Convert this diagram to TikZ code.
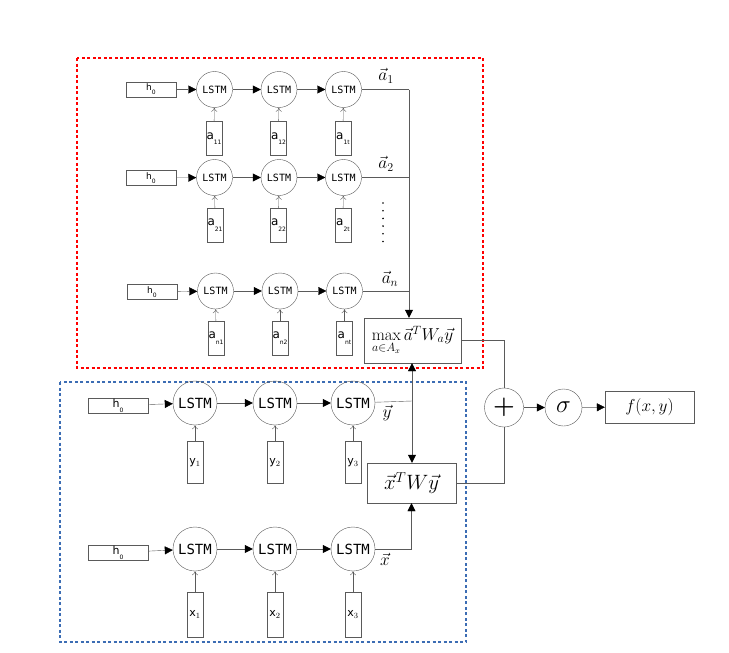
\documentclass[tikz,border=0pt]{standalone}
\usepackage{fontspec}
\usepackage{amsmath}
\usetikzlibrary{arrows.meta}
\newfontfamily\monofnt{DejaVu Sans Mono}
\newfontfamily\sansfnt{DejaVu Sans}
\newcommand{\lowsub}[2]{#1\raisebox{-0.45em}{\fontsize{6}{6}\selectfont #2}}
\definecolor{linegray}{HTML}{5A5A5A}
\definecolor{boxblue}{HTML}{3C6DB4}
\begin{document}
\begin{tikzpicture}[x=1pt, y=-1pt]
    \tikzstyle{every node}=[draw=linegray, thin, text=black, inner sep=0pt]
    \tikzstyle{lstm}=[circle, minimum size=36pt, font=\monofnt\fontsize{10}{10}\selectfont]
    \tikzstyle{biglstm}=[circle, minimum size=44pt, font=\monofnt\fontsize{14}{14}\selectfont]
    \tikzstyle{hbox}=[rectangle, minimum width=50pt, minimum height=15pt, font=\sansfnt\fontsize{9}{9}\selectfont]
    \tikzstyle{bighbox}=[rectangle, minimum width=60pt, minimum height=15pt, font=\sansfnt\fontsize{11}{11}\selectfont]
    \tikzstyle{inbox}=[rectangle, minimum width=16pt, minimum height=34pt, font=\sansfnt\fontsize{12}{12}\selectfont]
    \tikzstyle{biginbox}=[rectangle, minimum width=16pt, minimum height=42pt, font=\sansfnt\fontsize{11}{11}\selectfont]
    \tikzstyle{mathbox}=[rectangle]
    \tikzstyle{label}=[draw=none, font=\fontsize{18}{18}\selectfont]
    \tikzstyle{chain}=[linegray, thin, -{Triangle[length=8pt, width=8pt, color=black]}]
    \tikzstyle{feed}=[linegray, thin, -{To[length=4pt, width=6pt]}]
    \tikzstyle{wire}=[linegray, thin]

    \useasboundingbox (0,0) rectangle (729,653);

    % dashed frames
    \draw[red, line width=1.2pt, dash pattern=on 3pt off 2.5pt] (77,58) rectangle (483,368);
    \draw[boxblue, line width=1.1pt, dash pattern=on 3pt off 2.5pt] (60,382) rectangle (466,642);

    % answer rows
    \node[hbox] (h1) at (151,89.5) {\lowsub{h}{0}};
    \node[lstm] (A11) at (214.5,89.5) {LSTM};
    \node[lstm] (A12) at (279,89.5) {LSTM};
    \node[lstm] (A13) at (343.5,89.5) {LSTM};
    \node[inbox] (a11) at (214,138.5) {\lowsub{a}{11}};
    \node[inbox] (a12) at (278.5,138.5) {\lowsub{a}{12}};
    \node[inbox] (a13) at (343,138.5) {\lowsub{a}{1t}};

    \node[hbox] (h2) at (151,178) {\lowsub{h}{0}};
    \node[lstm] (A21) at (214.5,177.5) {LSTM};
    \node[lstm] (A22) at (279,177.5) {LSTM};
    \node[lstm] (A23) at (343.5,177.5) {LSTM};
    \node[inbox] (a21) at (215,225) {\lowsub{a}{21}};
    \node[inbox] (a22) at (278.5,225) {\lowsub{a}{22}};
    \node[inbox] (a23) at (343,225) {\lowsub{a}{2t}};

    \node[hbox] (h3) at (152,292) {\lowsub{h}{0}};
    \node[lstm] (A31) at (215.5,291) {LSTM};
    \node[lstm] (A32) at (280,291) {LSTM};
    \node[lstm] (A33) at (344.5,291) {LSTM};
    \node[inbox] (a31) at (216,338) {\lowsub{a}{n1}};
    \node[inbox] (a32) at (280,338) {\lowsub{a}{n2}};
    \node[inbox] (a33) at (344.5,338) {\lowsub{a}{nt}};

    \foreach \r in {1,2,3} {
        \draw[chain] (h\r) -- (A\r1);
        \draw[chain] (A\r1) -- (A\r2);
        \draw[chain] (A\r2) -- (A\r3);
        \foreach \c in {1,2,3}
            \draw[feed] (a\r\c) -- (A\r\c);
    }

    \node[label] (va1) at (386,76) {$\vec{a}_1$};
    \node[label] (va2) at (386,164) {$\vec{a}_2$};
    \node[label] (van) at (390,279) {$\vec{a}_n$};
    \foreach \k in {0,...,5}
        \fill[black] (383,203+7.7*\k) circle (0.9pt);

    % question and candidate rows
    \node[bighbox] (hy) at (118,405.5) {\lowsub{h}{0}};
    \node[biglstm] (Y1) at (195,403) {LSTM};
    \node[biglstm] (Y2) at (275,403) {LSTM};
    \node[biglstm] (Y3) at (353,403) {LSTM};
    \node[biginbox] (y1) at (195,462.5) {y$_1$};
    \node[biginbox] (y2) at (275,462.5) {y$_2$};
    \node[biginbox] (y3) at (353,462.5) {y$_3$};

    \node[bighbox] (hx) at (118,552.5) {\lowsub{h}{0}};
    \node[biglstm] (X1) at (195,549) {LSTM};
    \node[biglstm] (X2) at (275,549) {LSTM};
    \node[biglstm] (X3) at (353,549) {LSTM};
    \node[biginbox, minimum height=45pt] (x1) at (195,614.5) {x$_1$};
    \node[biginbox, minimum height=45pt] (x2) at (275,614.5) {x$_2$};
    \node[biginbox, minimum height=45pt] (x3) at (353,614.5) {x$_3$};

    \draw[chain] (hy) -- (Y1);
    \draw[chain] (Y1) -- (Y2);
    \draw[chain] (Y2) -- (Y3);
    \draw[chain] (hx) -- (X1);
    \draw[chain] (X1) -- (X2);
    \draw[chain] (X2) -- (X3);
    \foreach \c in {1,2,3} {
        \draw[feed] (y\c) -- (Y\c);
        \draw[feed] (x\c) -- (X\c);
    }

    \node[label] (vy) at (387,413) {$\vec{y}$};
    \node[label] (vx) at (385,559) {$\vec{x}$};

    % scoring
    \node[mathbox, minimum width=97pt, minimum height=45pt, font=\fontsize{17}{17}\selectfont] (maxb) at (412.5,340.5) {$\max\limits_{a\in A_x}\vec{a}^TW_a\vec{y}$};
    \node[mathbox, minimum width=89pt, minimum height=40pt, font=\fontsize{21}{21}\selectfont] (xwy) at (411.5,483) {$\vec{x}^TW\vec{y}$};
    \node[circle, minimum size=39pt, font=\fontsize{26}{26}\selectfont] (plus) at (504,407.5) {$\boldsymbol{+}$};
    \node[circle, minimum size=37pt, font=\fontsize{27}{27}\selectfont] (sig) at (563.5,407.5) {$\sigma$};
    \node[mathbox, minimum width=89pt, minimum height=32pt, font=\fontsize{19}{19}\selectfont] (fxy) at (649.5,407) {$f(x,y)$};

    \coordinate (ja1) at (409,89.5);
    \coordinate (ja2) at (409,177.5);
    \coordinate (jan) at (409,291);
    \coordinate (jy) at (412,401);
    \draw[wire] (A13) -- (ja1);
    \draw[wire] (A23) -- (ja2);
    \draw[wire] (A33) -- (jan);
    \draw[chain] (ja1) -- (ja1 |- maxb.north);
    \draw[wire] (Y3) -- (jy);
    \draw[chain] (jy) -- (jy |- maxb.south);
    \draw[chain] (jy) -- (jy |- xwy.north);
    \draw[chain] (X3) -| (xwy.south);
    \draw[wire] (maxb) -| (plus);
    \draw[wire] (xwy) -| (plus);
    \draw[chain] (plus) -- (sig);
    \draw[chain] (sig) -- (fxy);
\end{tikzpicture}
\end{document}
